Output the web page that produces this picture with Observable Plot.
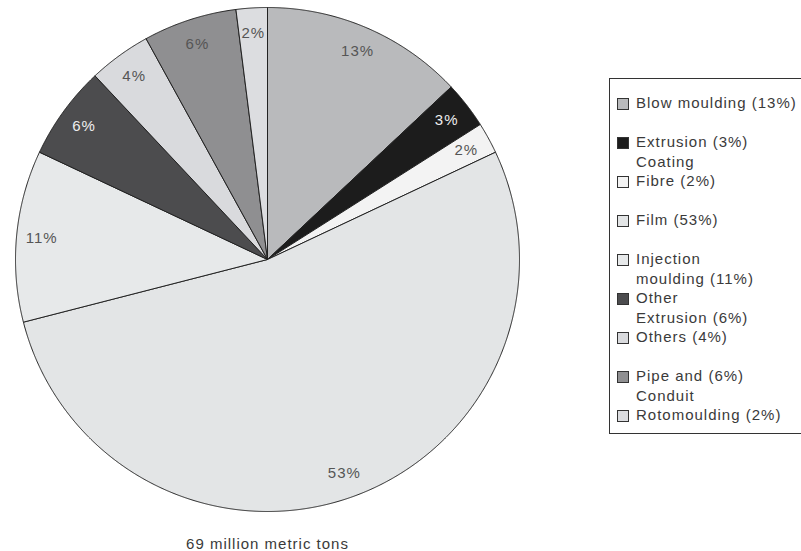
<!DOCTYPE html>
<html>
<head>
<meta charset="utf-8">
<script src="https://cdn.jsdelivr.net/npm/d3@7"></script>
<script src="https://cdn.jsdelivr.net/npm/@observablehq/plot@0.6"></script>
<style>
  html, body { margin: 0; padding: 0; background: #fff; overflow: hidden; }
  #wrap { position: relative; width: 801px; height: 551px; overflow: hidden; }
  #legend {
    position: absolute; left: 609px; top: 78px; width: 260px; height: 356px;
    border: 1px solid #333; border-right: none; box-sizing: border-box;
    font-family: "Liberation Sans", Arial, sans-serif; font-size: 15px;
    letter-spacing: 1px; color: #3a3a3a; padding-top: 14px;
  }
  .item { position: relative; height: 39px; line-height: 19.5px; padding-left: 26px; white-space: nowrap; }
  .sw { position: absolute; left: 7px; top: 5px; width: 10px; height: 10px; border: 1px solid #333; }
</style>
</head>
<body>
<div id="wrap"></div>
<script>
// Polyethylene consumption by application
const categories = ["Blow moulding", "Extrusion Coating", "Fibre", "Film", "Injection moulding",
                    "Other Extrusion", "Others", "Pipe and Conduit", "Rotomoulding"];
const shares = [13, 3, 2, 53, 11, 6, 4, 6, 2];
const legendLines = [
  ["Blow moulding (13%)"],
  ["Extrusion (3%)", "Coating"],
  ["Fibre (2%)"],
  ["Film (53%)"],
  ["Injection", "moulding (11%)"],
  ["Other", "Extrusion (6%)"],
  ["Others (4%)"],
  ["Pipe and (6%)", "Conduit"],
  ["Rotomoulding (2%)"]
];
const sliceColors = ["#b9babc", "#1c1c1c", "#f3f3f3", "#e3e5e6", "#e7e9ea",
                     "#4c4c4e", "#d9dadd", "#8f8f91", "#dcdde0"];
const labelColors = ["#555", "#eee", "#555", "#555", "#555", "#eee", "#555", "#555", "#555"];
const caption = "69 million metric tons";

// Slice outlines: centre, arc, centre (angles clockwise from 12 o'clock)
const arcs = d3.pie().sort(null).value(d => d)(shares);
const outline = [];
arcs.forEach((a, i) => {
  const name = categories[i];
  outline.push({name, x: 0, y: 0});
  const n = Math.max(2, Math.ceil((a.endAngle - a.startAngle) / 0.004));
  for (let k = 0; k <= n; k++) {
    const t = a.startAngle + (a.endAngle - a.startAngle) * k / n;
    outline.push({name, x: Math.sin(t), y: Math.cos(t)});
  }
  outline.push({name, x: 0, y: 0});
});
const labels = arcs.map((a, i) => {
  const t = (a.startAngle + a.endAngle) / 2;
  return {text: shares[i] + "%", x: 0.9 * Math.sin(t), y: 0.9 * Math.cos(t), color: labelColors[i]};
});

const chart = Plot.plot({
  width: 801,
  height: 551,
  margin: 0,
  style: {fontFamily: "'Liberation Sans', Arial, sans-serif", letterSpacing: "1px", background: "#fff"},
  x: {domain: [-1, 1], range: [15, 519], axis: null},
  y: {domain: [-1, 1], range: [511, 7], axis: null},
  color: {type: "ordinal", domain: categories, range: sliceColors},
  marks: [
    Plot.line(outline, {x: "x", y: "y", z: "name", fill: "name", stroke: "#222",
                        strokeWidth: 1, strokeLinejoin: "round"}),
    Plot.text(labels, {x: "x", y: "y", text: "text", fill: "color", fontSize: 15}),
    Plot.text([caption], {x: [0], frameAnchor: "bottom", dy: -3, lineAnchor: "bottom",
                          fontSize: 15, fill: "#3a3a3a"})
  ]
});

const wrap = document.getElementById("wrap");
wrap.appendChild(chart);

const legend = document.createElement("div");
legend.id = "legend";
legendLines.forEach((lines, i) => {
  const item = document.createElement("div");
  item.className = "item";
  const sw = document.createElement("span");
  sw.className = "sw";
  sw.style.background = sliceColors[i];
  item.appendChild(sw);
  lines.forEach((l, j) => {
    if (j) item.appendChild(document.createElement("br"));
    item.appendChild(document.createTextNode(l));
  });
  legend.appendChild(item);
});
wrap.appendChild(legend);
</script>
</body>
</html>
